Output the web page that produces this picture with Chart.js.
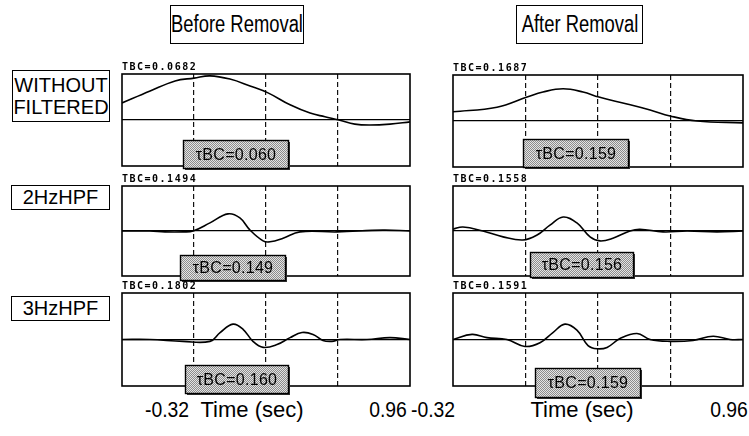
<!DOCTYPE html>
<html><head><meta charset="utf-8">
<script src="https://cdn.jsdelivr.net/npm/chart.js@4.4.1/dist/chart.umd.min.js"></script>
<style>
body{margin:0;background:#fff;width:749px;height:436px;position:relative;overflow:hidden;font-family:"Liberation Sans",Arial,sans-serif;color:#000}
.box{position:absolute;border:1.5px solid #000;box-sizing:border-box;text-align:center;background:#fff;white-space:nowrap}
.sq{position:absolute;left:50%;top:0;white-space:nowrap;transform:translateX(-50%) scaleX(0.8)}
.ax{position:absolute;white-space:nowrap}
canvas{position:absolute}
</style></head><body>
<div class="box" style="left:170px;top:5px;width:134px;height:39px;font-size:23px;line-height:36px"><span class="sq">Before Removal</span></div>
<div class="box" style="left:516px;top:5px;width:127px;height:39px;font-size:23px;line-height:36px"><span class="sq">After Removal</span></div>
<div class="box" style="left:12px;top:70px;width:98px;height:52px;font-size:20px;line-height:22px;padding-top:3px">WITHOUT<br>FILTERED</div>
<div class="box" style="left:11px;top:185px;width:99px;height:25px;font-size:20px;line-height:22px">2HzHPF</div>
<div class="box" style="left:11px;top:296px;width:99px;height:25px;font-size:20px;line-height:22px">3HzHPF</div>
<div id="axl"></div>
<script>
// ---- data ----
const xTicks = [-0.32, 0, 0.32, 0.64, 0.96];
const axisTitle = "Time (sec)";
const rowLabels = ["WITHOUT FILTERED", "2HzHPF", "3HzHPF"];
const colLabels = ["Before Removal", "After Removal"];
const panelTitles = ["TBC=0.0682", "TBC=0.1687", "TBC=0.1494", "TBC=0.1558", "TBC=0.1802", "TBC=0.1591"];
const tauTexts = ["\u03c4BC=0.060", "\u03c4BC=0.159", "\u03c4BC=0.149", "\u03c4BC=0.156", "\u03c4BC=0.160", "\u03c4BC=0.159"];
// annotation anchors in data units: [time at box centre, value at box top]
const tauAnchor = [[0.184, -0.43], [0.221, -0.39], [0.171, -0.53], [0.247, -0.47], [0.189, -0.55], [0.274, -0.61]];

const rawBeforeT = [-0.32,-0.195,-0.084,0,0.071,0.16,0.249,0.329,0.427,0.516,0.582,0.644,0.715,0.782,0.871,0.96];
const rawBeforeV = [0.37,0.63,0.85,0.91,0.96,0.89,0.74,0.59,0.33,0.15,0.07,0,-0.09,-0.11,-0.09,-0.04];
const rawAfterT  = [-0.32,-0.126,0.007,0.077,0.166,0.254,0.324,0.448,0.55,0.638,0.757,0.96];
const rawAfterV  = [0.2,0.3,0.52,0.63,0.7,0.63,0.52,0.37,0.24,0.11,0,-0.04];
const hpf2BeforeT = [-0.32,-0.196,-0.129,-0.049,-0.004,0.071,0.151,0.204,0.249,0.307,0.338,0.396,0.471,0.636,0.84,0.96];
const hpf2BeforeV = [0,0,-0.02,-0.02,0,0.18,0.38,0.29,0.02,-0.22,-0.24,-0.16,-0.02,-0.02,0.02,0];
const hpf2AfterT  = [-0.32,-0.276,-0.188,-0.099,-0.011,0.051,0.108,0.166,0.227,0.285,0.329,0.386,0.461,0.505,0.607,0.713,0.845,0.96];
const hpf2AfterV  = [0.04,0.09,0,-0.13,-0.2,-0.09,0.13,0.31,0.18,-0.13,-0.22,-0.16,0,0.04,-0.02,0,-0.02,0];
const hpf3BeforeT = [-0.32,-0.196,-0.049,0.071,0.116,0.173,0.218,0.262,0.307,0.369,0.427,0.48,0.529,0.573,0.613,0.649,0.769,0.871,0.96];
const hpf3BeforeV = [0,0,-0.04,-0.04,0.15,0.33,0.22,-0.04,-0.17,-0.11,0.04,0.15,0.11,-0.02,-0.04,0,0,0.04,0];
const hpf3AfterT  = [-0.32,-0.236,-0.17,-0.082,-0.002,0.064,0.121,0.174,0.227,0.276,0.316,0.36,0.417,0.492,0.55,0.638,0.739,0.828,0.903,0.96];
const hpf3AfterV  = [0,0.11,0.04,0,-0.15,-0.07,0.15,0.33,0.2,-0.13,-0.2,-0.17,0.02,0.13,0,-0.04,-0.02,0.07,0,0];

const seriesT = [rawBeforeT, rawAfterT, hpf2BeforeT, hpf2AfterT, hpf3BeforeT, hpf3AfterT];
const seriesV = [rawBeforeV, rawAfterV, hpf2BeforeV, hpf2AfterV, hpf3BeforeV, hpf3AfterV];

// ---- layout (pixels) ----
const panelRects = [
  [122, 74, 288, 92], [453, 75, 290, 92],
  [122, 186, 288, 90], [453, 186, 290, 90],
  [122, 293, 288, 93], [453, 293, 290, 93]
];
const PAD = {left: 8, right: 6, top: 16, bottom: 36};
const boxH = [28, 28, 25, 25, 28, 29];
const boxW = [105, 105, 105, 103, 103, 105];

function makePattern(ctx){
  const c = document.createElement('canvas'); c.width = 2; c.height = 2;
  const g = c.getContext('2d');
  g.fillStyle = '#e4e4e4'; g.fillRect(0,0,2,2);
  g.fillStyle = '#8c8c8c'; g.fillRect(0,0,1,1); g.fillRect(1,1,1,1);
  return ctx.createPattern(c, 'repeat');
}

const deco = {
  id: 'deco',
  afterDatasetsDraw(chart, args, opts){
    const ctx = chart.ctx, a = chart.chartArea;
    const xs = chart.scales.x, ys = chart.scales.y;
    ctx.save();
    ctx.strokeStyle = '#000'; ctx.lineWidth = 1.6;
    ctx.strokeRect(a.left, a.top, a.right - a.left, a.bottom - a.top);
    ctx.fillStyle = '#000';
    ctx.font = 'bold 10px "DejaVu Sans Mono", monospace';
    ctx.letterSpacing = '1.5px';
    ctx.textBaseline = 'alphabetic'; ctx.textAlign = 'left';
    ctx.fillText(opts.title, a.left, a.top - 4);
    ctx.letterSpacing = '0px';
    const cx = xs.getPixelForValue(opts.anchor[0]);
    const ty = ys.getPixelForValue(opts.anchor[1]);
    const w = opts.w, h = opts.h;
    const x0 = Math.round(cx - w/2) + 0.5, y0 = Math.round(ty) + 0.5;
    ctx.fillStyle = '#333';
    ctx.fillRect(x0 + 1.5, y0 + 1.5, w, h);
    ctx.fillStyle = makePattern(ctx);
    ctx.fillRect(x0, y0, w, h);
    ctx.strokeStyle = '#000'; ctx.lineWidth = 1.4;
    ctx.strokeRect(x0, y0, w, h);
    ctx.fillStyle = '#000';
    ctx.font = '16px "Liberation Sans", Arial, sans-serif';
    ctx.letterSpacing = '0.3px';
    ctx.textAlign = 'center'; ctx.textBaseline = 'middle';
    ctx.fillText(opts.tau, x0 + w/2, y0 + h/2 + 1);
    ctx.restore();
  }
};

panelRects.forEach((r, i) => {
  const cv = document.createElement('canvas');
  const W = r[2] + PAD.left + PAD.right, H = r[3] + PAD.top + PAD.bottom;
  cv.width = W; cv.height = H;
  cv.style.left = (r[0] - PAD.left) + 'px';
  cv.style.top = (r[1] - PAD.top) + 'px';
  cv.style.width = W + 'px'; cv.style.height = H + 'px';
  document.body.appendChild(cv);
  const pts = seriesT[i].map((t, k) => ({x: t, y: seriesV[i][k]}));
  new Chart(cv.getContext('2d'), {
    type: 'line',
    data: {datasets: [{data: pts, borderColor: '#000', borderWidth: 1.6, pointRadius: 0, tension: 0.4, fill: false}]},
    options: {
      responsive: false, animation: false, devicePixelRatio: 1,
      layout: {padding: PAD},
      plugins: {legend: {display: false}, tooltip: {enabled: false},
        deco: {title: panelTitles[i], tau: tauTexts[i], anchor: tauAnchor[i], w: boxW[i], h: boxH[i]}},
      scales: {
        x: {type: 'linear', min: xTicks[0], max: xTicks[xTicks.length-1],
          afterBuildTicks: s => { s.ticks = xTicks.map(v => ({value: v})); },
          afterFit: s => { s.height = 0; },
          ticks: {display: false},
          grid: {drawTicks: false, lineWidth: 1.2,
            color: c => (c.index > 0 && c.index < xTicks.length - 1) ? '#111' : 'rgba(0,0,0,0)'},
          border: {display: false, dash: [5, 3]}},
        y: {type: 'linear', min: -1, max: 1,
          afterBuildTicks: s => { s.ticks = [{value: 0}]; },
          afterFit: s => { s.width = 0; },
          ticks: {display: false},
          grid: {drawTicks: false, lineWidth: 1.3, color: '#000'},
          border: {display: false}}
      }
    },
    plugins: [deco]
  });
});

// bottom axis labels (centre positions)
const axl = document.getElementById('axl');
const fmt = v => v.toFixed(2);
[[167, fmt(xTicks[0]), 22, 0.88], [252, axisTitle, 22, 1.0], [388, fmt(xTicks[xTicks.length-1]), 22, 0.88],
 [433, fmt(xTicks[0]), 22, 0.88], [582, axisTitle, 22, 1.0], [729, fmt(xTicks[xTicks.length-1]), 22, 0.88]].forEach(p => {
  const d = document.createElement('div');
  d.className = 'ax'; d.style.left = p[0] + 'px';
  d.style.fontSize = p[2] + 'px'; d.style.lineHeight = '26px';
  d.style.top = '397px';
  d.style.transform = 'translateX(-50%) scaleX(' + p[3] + ')';
  d.textContent = p[1];
  axl.appendChild(d);
});
</script>
</body></html>
